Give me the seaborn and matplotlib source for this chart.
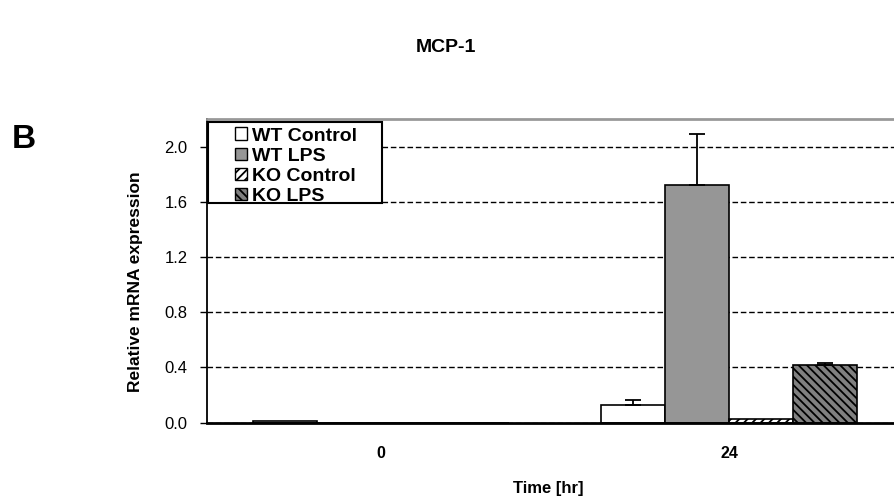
import matplotlib
matplotlib.use("Agg")
import matplotlib.pyplot as plt
from matplotlib.patches import Patch, Rectangle
import seaborn as sns
import pandas as pd

# Data
times = ["0", "24"]
groups = ["WT Control", "WT LPS", "KO Control", "KO LPS"]
wt_control = [0.010, 0.130]
wt_lps = [0.0, 1.72]
ko_control = [0.0, 0.030]
ko_lps = [0.0, 0.415]
wt_control_err = [0.0, 0.035]
wt_lps_err = [0.0, 0.37]
ko_control_err = [0.0, 0.0]
ko_lps_err = [0.0, 0.018]
y_ticks = [0.0, 0.4, 0.8, 1.2, 1.6, 2.0]

values = [wt_control, wt_lps, ko_control, ko_lps]
errors = [wt_control_err, wt_lps_err, ko_control_err, ko_lps_err]

rows = []
for g, vals in zip(groups, values):
    for t, v in zip(times, vals):
        rows.append({"Time": t, "Group": g, "Value": v})
df = pd.DataFrame(rows)

sns.set_style("white")
plt.rcParams["font.family"] = ["Liberation Sans", "DejaVu Sans"]
plt.rcParams["hatch.linewidth"] = 1.3
plt.rcParams["text.color"] = "black"
plt.rcParams["axes.labelcolor"] = "black"
plt.rcParams["xtick.color"] = "black"
plt.rcParams["ytick.color"] = "black"

fills = ["white", "#969696", "white", "#808080"]
hatches = [None, None, "////", "\\\\\\\\"]

fig = plt.figure(figsize=(8.95, 5.04), dpi=100)
ax = fig.add_axes([0.2313, 0.1613, 0.7777, 0.6026])

sns.barplot(data=df, x="Time", y="Value", hue="Group", order=times,
            hue_order=groups, width=0.735, errorbar=None, ax=ax,
            legend=False, saturation=1)

bar_groups = list(ax.containers)
for i, cont in enumerate(bar_groups):
    for bar, val, err in zip(cont.patches, values[i], errors[i]):
        bar.set_facecolor(fills[i])
        bar.set_edgecolor("black")
        bar.set_linewidth(1.2)
        if hatches[i]:
            bar.set_hatch(hatches[i])
        if err > 0:
            cx = bar.get_x() + bar.get_width() / 2
            ax.errorbar(cx, val, yerr=[[0], [err]], fmt="none",
                        ecolor="black", elinewidth=1.3, capsize=5.5,
                        capthick=1.3, zorder=3)

ax.set_ylim(0, 2.2)
ax.set_xlim(-0.5, 1.5)
ax.set_yticks(y_ticks)
ax.set_yticklabels([f"{v:.1f}" for v in y_ticks])
ax.yaxis.grid(True, linestyle=(0, (4, 2)), color="black", linewidth=1.0)
ax.set_axisbelow(True)
ax.tick_params(axis="y", direction="out", length=5, width=1, pad=9,
               labelsize=12, left=True)
ax.tick_params(axis="x", length=0, pad=17, labelsize=11.5)
for lab in ax.get_xticklabels():
    lab.set_fontweight("bold")

ax.spines["left"].set_color("black")
ax.spines["left"].set_linewidth(1.3)
ax.spines["bottom"].set_color("black")
ax.spines["bottom"].set_linewidth(2.0)
ax.spines["top"].set_color("#999999")
ax.spines["top"].set_linewidth(2.0)
ax.spines["right"].set_color("#999999")

ax.set_xlabel("Time [hr]", fontsize=12, fontweight="bold")
ax.set_ylabel("Relative mRNA expression", fontsize=12.5, fontweight="bold")
ax.xaxis.set_label_coords(0.49, -0.215)
ax.yaxis.set_label_coords(-0.1034, 0.463)
ax.xaxis.label.set_va("center")
ax.yaxis.label.set_va("center")

# legend box drawn as its own rectangle, entries placed inside it
ax.add_patch(Rectangle((0.0015, 0.7234), 0.25, 0.2666,
                       transform=ax.transAxes, facecolor="white",
                       edgecolor="black", linewidth=1.5, zorder=5,
                       clip_on=False))
handles = [Patch(facecolor=fills[i], edgecolor="black", hatch=hatches[i],
                 linewidth=1.0) for i in range(4)]
leg = ax.legend(handles, groups, loc="upper left",
                bbox_to_anchor=(0.040, 0.972), frameon=False,
                borderpad=0, labelspacing=0.16, handlelength=0.6,
                handleheight=0.6, handletextpad=0.3, borderaxespad=0,
                prop={"weight": "bold", "size": 14})
leg.set_zorder(6)

fig.text(0.498, 0.905, "MCP-1", ha="center", va="center", fontsize=14,
         fontweight="bold")
fig.text(0.027, 0.724, "B", ha="center", va="center", fontsize=24,
         fontweight="bold")

fig.savefig("out.png", dpi=100)
